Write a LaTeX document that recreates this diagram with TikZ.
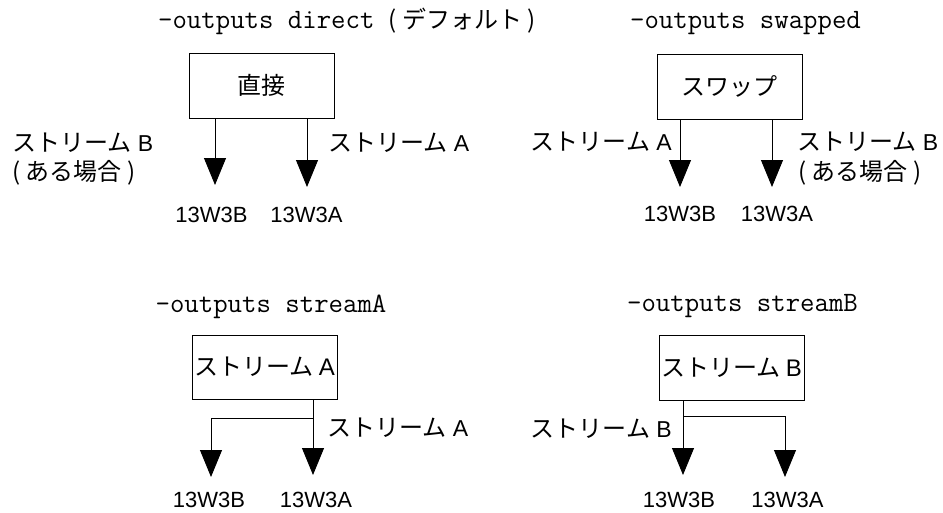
\documentclass[tikz,border=0pt]{standalone}
\usepackage{fontspec}
\setmainfont{Liberation Sans}
\newfontfamily\jp{Noto Sans CJK JP}
\usetikzlibrary{arrows.meta}
\tikzset{
  boxnode/.style={draw,line width=0.9pt,minimum width=145pt,minimum height=65pt,inner sep=0pt,font=\jp\fontsize{24}{26}\selectfont},
  titlenode/.style={anchor=base,inner sep=0pt,font=\ttfamily\fontsize{28}{30}\selectfont},
  lbl/.style={anchor=base west,inner sep=0pt,font=\fontsize{23}{26}\selectfont},
  conn/.style={anchor=base,inner sep=0pt,font=\fontsize{22}{26}\selectfont},
  arr/.style={line width=0.9pt,-{Triangle[length=27pt,width=22pt]}},
  ln/.style={line width=0.9pt}
}
\newcommand{\jpt}[1]{{\jp\fontsize{24}{26}\selectfont #1}}
\begin{document}
\begin{tikzpicture}[x=1pt,y=-1pt]
\useasboundingbox (0,0) rectangle (943,512);
% ---- panel 1: direct
\node[titlenode] (t1) at (347,28) {-outputs direct {\jp\fontsize{24}{26}\selectfont ( デフォルト )}};
\node[boxnode] (b1) at (261.5,85.5) {直接};
\coordinate (p1l) at (215,185);
\coordinate (p1r) at (307,187);
\draw[arr] (b1.south -| p1l) -- (p1l);
\draw[arr] (b1.south -| p1r) -- (p1r);
\node[lbl] (s1b) at (12,151) {\jpt{ストリーム} B};
\node[lbl] (s1c) at (12,180) {\jpt{( ある場合 )}};
\node[lbl] (s1a) at (328,151) {\jpt{ストリーム} A};
\node[conn] (c1b) at (211.5,222) {13W3B};
\node[conn] (c1a) at (306.5,222) {13W3A};
% ---- panel 2: swapped
\node[titlenode] (t2) at (745.5,28) {-outputs swapped};
\node[boxnode] (b2) at (729.5,86.5) {スワップ};
\coordinate (p2l) at (680,187);
\coordinate (p2r) at (772,187);
\draw[arr] (b2.south -| p2l) -- (p2l);
\draw[arr] (b2.south -| p2r) -- (p2r);
\node[lbl,anchor=base east] (s2a) at (672,150) {\jpt{ストリーム} A};
\node[lbl] (s2b) at (797,150) {\jpt{ストリーム} B};
\node[lbl] (s2c) at (798,180) {\jpt{( ある場合 )}};
\node[conn] (c2b) at (680,221) {13W3B};
\node[conn] (c2a) at (777,221) {13W3A};
% ---- panel 3: streamA
\node[titlenode] (t3) at (271,312) {-outputs streamA};
\node[boxnode,minimum height=64pt] (b3) at (264.5,367) {ストリーム {\fontspec{Liberation Sans}A}};
\coordinate (p3r) at (313,475);
\coordinate (p3j) at (313,418);
\coordinate (p3l) at (211,477);
\draw[arr] (b3.south -| p3r) -- (p3r);
\draw[arr] (p3j) -| (p3l);
\node[lbl] (s3a) at (327,436) {\jpt{ストリーム} A};
\node[conn] (c3b) at (209,507) {13W3B};
\node[conn] (c3a) at (316,507) {13W3A};
% ---- panel 4: streamB
\node[titlenode] (t4) at (742.5,311) {-outputs streamB};
\node[boxnode] (b4) at (731.5,367.5) {ストリーム {\fontspec{Liberation Sans}B}};
\coordinate (p4l) at (683,475);
\coordinate (p4j) at (683,416);
\coordinate (p4r) at (785,477);
\draw[arr] (b4.south -| p4l) -- (p4l);
\draw[arr] (p4j) -| (p4r);
\node[lbl,anchor=base east] (s4b) at (672,437) {\jpt{ストリーム} B};
\node[conn] (c4b) at (679,507) {13W3B};
\node[conn] (c4a) at (787.5,507) {13W3A};
\end{tikzpicture}
\end{document}
